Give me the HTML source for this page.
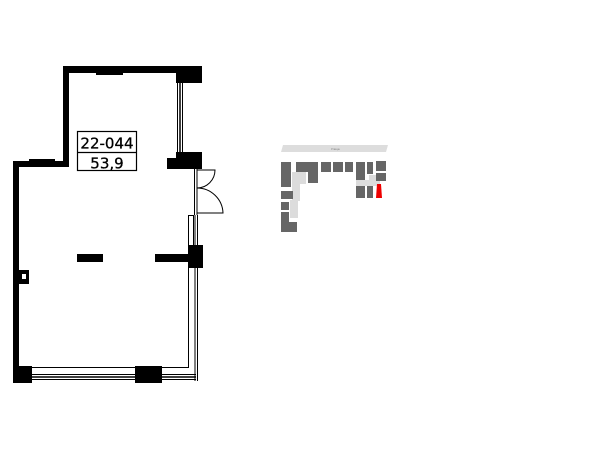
<!DOCTYPE html>
<html><head><style>html,body{margin:0;padding:0;background:#fff}svg{display:block}</style></head>
<body>
<svg width="600" height="450" viewBox="0 0 600 450" xmlns="http://www.w3.org/2000/svg">
<rect width="600" height="450" fill="#fff"/>
<g fill="#000">
<rect x="63" y="66" width="139" height="7"/>
<rect x="96" y="72" width="27" height="3"/>
<rect x="176" y="66" width="26" height="17"/>
<rect x="63" y="66" width="6" height="101"/>
<rect x="13" y="161" width="56" height="6"/>
<rect x="29" y="159" width="26" height="3"/>
<rect x="13" y="161" width="6" height="222"/>
<rect x="19" y="270" width="10" height="14"/>
<rect x="176" y="152" width="26" height="17"/>
<rect x="167" y="158" width="12" height="11"/>
<rect x="77" y="254" width="26" height="8"/>
<rect x="155" y="254" width="48" height="8"/>
<rect x="188" y="245" width="15" height="23"/>
<rect x="13" y="366" width="19" height="17"/>
<rect x="135" y="366" width="27" height="17"/>
</g>
<rect x="22" y="274" width="4" height="5" fill="#fff"/>
<g stroke="#000" fill="none" stroke-width="1">
<line x1="177.5" y1="83" x2="177.5" y2="152"/>
<line x1="180" y1="83" x2="180" y2="152" stroke-width="1.5"/>
<line x1="182.5" y1="83" x2="182.5" y2="152"/>
<line x1="194.5" y1="169" x2="194.5" y2="215"/>
<line x1="197" y1="169" x2="197" y2="215"/>
<path d="M197 170 H215 A18 18 0 0 1 197 188"/>
<path d="M197 188 A26 26 0 0 1 223 213 H197"/>
<rect x="188.5" y="215.5" width="5" height="30"/>
<line x1="195" y1="215" x2="195" y2="381"/>
<line x1="197.5" y1="215" x2="197.5" y2="381"/>
<line x1="188.5" y1="268" x2="188.5" y2="368"/>
<line x1="19" y1="367.5" x2="188" y2="367.5"/>
<line x1="32" y1="374.5" x2="196" y2="374.5"/>
<line x1="32" y1="377" x2="196" y2="377" stroke-width="1.5"/>
<line x1="32" y1="379.5" x2="196" y2="379.5"/>
</g>
<rect x="77.5" y="131.5" width="59" height="39" fill="#fff" stroke="#000" stroke-width="1.2"/>
<line x1="77.5" y1="152.5" x2="136.5" y2="152.5" stroke="#000" stroke-width="1.2"/>
<text x="107" y="148.5" text-anchor="middle" font-family="DejaVu Sans, sans-serif" font-size="15" fill="#000" stroke="#000" stroke-width="0.3">22-044</text>
<text x="107" y="168.5" text-anchor="middle" font-family="DejaVu Sans, sans-serif" font-size="15" fill="#000" stroke="#000" stroke-width="0.3">53,9</text>
<polygon points="283,145 388,145 386,152 281,152" fill="#ddd"/>
<text x="331" y="150" font-family="Liberation Sans, sans-serif" font-size="3" fill="#777">Улица</text>
<g fill="#dcdcdc">
<rect x="292" y="172" width="14" height="12"/>
<rect x="292" y="183" width="8" height="18"/>
<rect x="290" y="200" width="8" height="18"/>
<rect x="356" y="180" width="24" height="6"/>
<rect x="369" y="175" width="8" height="8"/>
</g>
<g fill="#666">
<rect x="281" y="162" width="10" height="25"/>
<rect x="296" y="162" width="12" height="10"/>
<rect x="308" y="162" width="10" height="21"/>
<rect x="321" y="162" width="10" height="10"/>
<rect x="333" y="162" width="10" height="10"/>
<rect x="345" y="162" width="8" height="10"/>
<rect x="356" y="162" width="9" height="18"/>
<rect x="367" y="162" width="6" height="12"/>
<rect x="376" y="161" width="10" height="10"/>
<rect x="376" y="173" width="10" height="8"/>
<rect x="356" y="186" width="9" height="12"/>
<rect x="367" y="186" width="6" height="12"/>
<rect x="281" y="191" width="12" height="8"/>
<rect x="281" y="202" width="8" height="8"/>
<rect x="281" y="212" width="8" height="10"/>
<rect x="281" y="222" width="16" height="10"/>
</g>
<polygon points="377,184 381,184 382,198 376,198" fill="#e00"/>
</svg>
</body></html>
